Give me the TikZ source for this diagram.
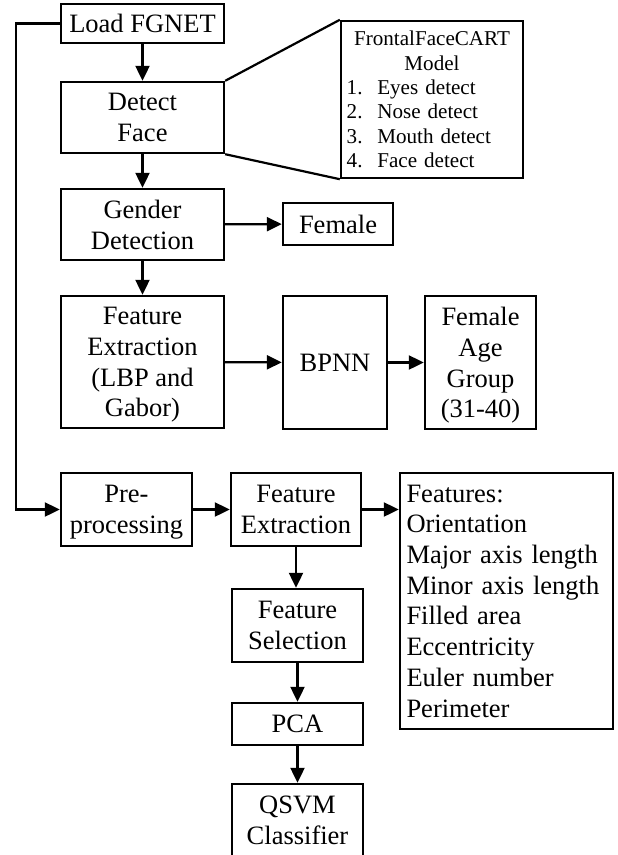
\documentclass[tikz,border=0pt]{standalone}
\usepackage{fontspec}
\setmainfont{Liberation Serif}
\usetikzlibrary{arrows.meta}
\begin{document}
\begin{tikzpicture}[x=1pt,y=-1pt,
 frame/.style={draw, line width=2.4pt, inner sep=0pt, font=\fontsize{26.5}{30.7}\selectfont},
 box/.style={frame, align=center, text depth=0pt},
 conn/.style={line width=2.2pt},
 arr/.style={conn, -{Triangle[length=15pt,width=14pt]}}]
\useasboundingbox (0,0) rectangle (618,855);
\node[box, minimum width=163, minimum height=39] (load) at (142.5,23.5) {Load FGNET};
\node[box, minimum width=163, minimum height=71] (detect) at (142.5,117.5) {Detect\\Face};
\node[frame, minimum width=182, minimum height=157, inner xsep=5.7pt, text width=170.6pt, font=\fontsize{21.1}{24.3}\selectfont] (cart) at (432,99.5)
 {{\centering FrontalFaceCART\\Model\par}\raggedright
  \makebox[30.6pt][l]{1.}Eyes detect\\
  \makebox[30.6pt][l]{2.}Nose detect\\
  \makebox[30.6pt][l]{3.}Mouth detect\\
  \makebox[30.6pt][l]{4.}Face detect};
\node[box, minimum width=163, minimum height=71] (gender) at (142.5,224.5) {Gender\\Detection};
\node[box, minimum width=110, minimum height=42] (female) at (338,224) {Female};
\node[box, minimum width=163, minimum height=132] (fe1) at (142.5,362) {Feature\\Extraction\\(LBP and\\Gabor)};
\node[box, minimum width=104, minimum height=133] (bpnn) at (335,362.5) {BPNN};
\node[box, minimum width=111, minimum height=133] (fag) at (480.5,362.5) {Female\\Age\\Group\\(31-40)};
\node[box, minimum width=131, minimum height=73] (pre) at (126.5,509.5) {Pre-\\processing};
\node[box, minimum width=130, minimum height=73] (fe2) at (296,509.5) {Feature\\Extraction};
\node[frame, minimum width=213, minimum height=256, inner xsep=6.5pt, text width=200pt, align=left] (feats) at (506.5,601)
 {Features:\\Orientation\\Major axis length\\Minor axis length\\Filled area\\Eccentricity\\Euler number\\Perimeter};
\node[box, minimum width=131, minimum height=73] (fsel) at (297.5,625.5) {Feature\\Selection};
\node[box, minimum width=131, minimum height=42] (pca) at (297.5,724) {PCA};
\node[box, minimum width=131, minimum height=72] (qsvm) at (297.5,820) {QSVM\\Classifier};
\coordinate (lc) at (16,0);
\draw[arr] (load) -- (detect);
\draw[conn] (detect.north east) -- (cart.north west);
\draw[conn] (detect.south east) -- (cart.south west);
\draw[arr] (detect) -- (gender);
\draw[arr] (gender) -- (female);
\draw[arr] (gender) -- (fe1);
\draw[arr] (fe1) -- (bpnn);
\draw[arr] (bpnn) -- (fag);
\draw[arr] (load.west) -- (load.west -| lc) |- (pre.west);
\draw[arr] (pre) -- (fe2);
\draw[arr] (fe2.east) -- (fe2.east -| feats.west);
\draw[arr] (fe2.south) -- (fe2.south |- fsel.north);
\draw[arr] (fsel.south) -- (fsel.south |- pca.north);
\draw[arr] (pca) -- (qsvm);
\end{tikzpicture}
\end{document}
